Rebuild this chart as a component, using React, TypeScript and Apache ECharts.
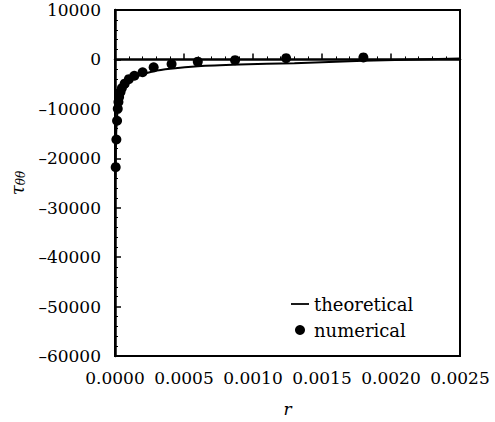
import React, { useEffect, useRef } from "react";
import * as echarts from "echarts";

// theoretical curve (r, tau_theta_theta)
const theoR = [0.000003, 0.000006, 0.00001, 0.00002, 0.00003, 0.00005, 0.00008, 0.00012, 0.00018, 0.00028, 0.0004, 0.0006, 0.0009, 0.0013, 0.0018, 0.0025];
const theoTau = [-24000, -18000, -14000, -10000, -8200, -6400, -5000, -4000, -3200, -2400, -1900, -1400, -1050, -750, -280, 200];

// numerical points
const numR = [0.000005, 0.00001, 0.000015, 0.00002, 0.000025, 0.00003, 0.00004, 0.00005, 0.00007, 0.0001, 0.00014, 0.0002, 0.00028, 0.00041, 0.0006, 0.00087, 0.00124, 0.0018];
const numTau = [-21800, -16200, -12400, -10000, -8600, -7600, -6600, -5800, -4900, -4000, -3300, -2600, -1600, -950, -450, -150, 250, 400];

const xTicks = [0, 0.0005, 0.001, 0.0015, 0.002, 0.0025];
const yTicks = [-60000, -50000, -40000, -30000, -20000, -10000, 0, 10000];

const FONT = "DejaVu Serif";

export default function App() {
  const ref = useRef<HTMLDivElement>(null);
  useEffect(() => {
    if (!ref.current) return;
    const chart = echarts.init(ref.current, null, { renderer: "svg" });
    const fmtNum = (v: number) => (v < 0 ? "\u2013" + String(-v) : String(v));
    chart.setOption({
      animation: false,
      backgroundColor: "#fff",
      grid: { left: 114, right: 35, top: 10, bottom: 59, show: true, borderColor: "#000", borderWidth: 2, backgroundColor: "transparent" },
      legend: {
        orient: "vertical",
        left: 286,
        top: 290,
        itemGap: 8,
        itemWidth: 18,
        itemHeight: 10,
        textStyle: { fontFamily: FONT, fontSize: 18, color: "#000" },
        data: [
          { name: "theoretical", icon: "path://M0,4H20V6H0Z", itemStyle: { color: "#000" } },
          { name: "numerical", icon: "circle", itemStyle: { color: "#000" } },
        ],
      },
      xAxis: {
        type: "value",
        min: 0,
        max: 0.0025,
        interval: 0.0005,
        name: "r",
        nameLocation: "middle",
        nameGap: 44,
        nameTextStyle: { fontFamily: FONT, fontStyle: "italic", fontSize: 17, color: "#000" },
        axisLine: { show: true, lineStyle: { color: "#000", width: 2.5 } },
        axisTick: { show: true, inside: true, length: 6, lineStyle: { color: "#000", width: 1.5 } },
        minorTick: { show: true, splitNumber: 5, length: 3, lineStyle: { color: "#000", width: 1 } },
        splitLine: { show: false },
        axisLabel: {
          fontFamily: FONT,
          fontSize: 17,
          color: "#000",
          margin: 13,
          formatter: (v: number) => {
            const idx = xTicks.findIndex((t) => Math.abs(t - v) < 1e-9);
            return idx >= 0 ? xTicks[idx].toFixed(4) : "";
          },
        },
      },
      yAxis: {
        type: "value",
        min: -60000,
        max: 10000,
        interval: 10000,
        name: "{t|\u03c4}{s|\u03b8\u03b8}",
        nameLocation: "middle",
        nameRotate: 90,
        nameGap: 88,
        nameTextStyle: {
          rich: {
            t: { fontFamily: FONT, fontStyle: "italic", fontSize: 18, color: "#000" },
            s: { fontFamily: FONT, fontStyle: "italic", fontSize: 12, color: "#000", verticalAlign: "bottom", padding: [8, 0, 0, 0] },
          },
        },
        axisLine: { show: true, lineStyle: { color: "#000", width: 2.5 } },
        axisTick: { show: true, inside: true, length: 6, lineStyle: { color: "#000", width: 1.5 } },
        minorTick: { show: true, splitNumber: 5, length: 3, lineStyle: { color: "#000", width: 1 } },
        splitLine: { show: false },
        axisLabel: {
          fontFamily: FONT,
          fontSize: 17,
          color: "#000",
          margin: 14,
          formatter: (v: number) => (yTicks.includes(v) ? fmtNum(v) : ""),
        },
      },
      series: [
        {
          name: "theoretical",
          type: "line",
          data: theoR.map((r, i) => [r, theoTau[i]]),
          showSymbol: false,
          smooth: 0.3,
          lineStyle: { color: "#000", width: 2 },
          itemStyle: { color: "#000" },
          z: 2,
        },
        {
          name: "numerical",
          type: "scatter",
          data: numR.map((r, i) => [r, numTau[i]]),
          symbol: "circle",
          symbolSize: 10,
          itemStyle: { color: "#000", opacity: 1 },
          z: 3,
        },
      ],
    });
    return () => chart.dispose();
  }, []);
  return <div ref={ref} style={{ width: 495, height: 422, position: "absolute", left: 0, top: 0 }} />;
}
